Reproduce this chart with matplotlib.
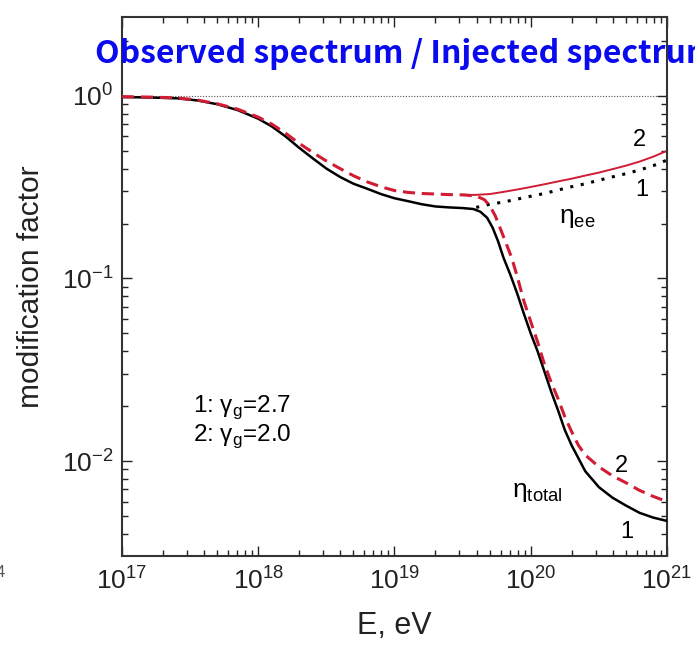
import numpy as np
import matplotlib.pyplot as plt

# --- Data (log10 E in eV) ---
lgE_tot1 = [17.00, 17.20, 17.40, 17.55, 17.70, 17.85, 18.00, 18.10, 18.20, 18.30,
            18.40, 18.50, 18.60, 18.70, 18.80, 18.90, 19.00, 19.10, 19.20, 19.30,
            19.40, 19.50, 19.58, 19.63, 19.68, 19.72, 19.76, 19.80, 19.85, 19.90,
            19.95, 20.00, 20.05, 20.10, 20.15, 20.20, 20.25, 20.30, 20.40, 20.50,
            20.60, 20.70, 20.80, 20.90, 21.00]
eta_tot1 = [0.985, 0.98, 0.97, 0.945, 0.90, 0.835, 0.75, 0.68, 0.60, 0.52,
            0.455, 0.40, 0.36, 0.33, 0.31, 0.29, 0.275, 0.265, 0.255, 0.248,
            0.245, 0.243, 0.240, 0.232, 0.215, 0.19, 0.16, 0.13, 0.105, 0.083,
            0.064, 0.050, 0.040, 0.031, 0.024, 0.019, 0.0148, 0.0122, 0.0088, 0.0072,
            0.0063, 0.0057, 0.0052, 0.0049, 0.0047]

lgE_tot2 = [17.00, 17.20, 17.40, 17.55, 17.70, 17.85, 18.00, 18.10, 18.20, 18.30,
            18.40, 18.50, 18.60, 18.70, 18.80, 18.90, 19.00, 19.10, 19.20, 19.30,
            19.40, 19.50, 19.60, 19.66, 19.70, 19.74, 19.78, 19.82, 19.86, 19.90,
            19.95, 20.00, 20.05, 20.10, 20.15, 20.20, 20.25, 20.30, 20.35, 20.40,
            20.50, 20.60, 20.70, 20.80, 20.90, 21.00]
eta_tot2 = [0.99, 0.985, 0.975, 0.95, 0.905, 0.845, 0.765, 0.70, 0.625, 0.55,
            0.49, 0.44, 0.40, 0.365, 0.338, 0.318, 0.303, 0.296, 0.292, 0.29,
            0.288, 0.287, 0.283, 0.27, 0.25, 0.22, 0.185, 0.155, 0.13, 0.103,
            0.075, 0.058, 0.045, 0.034, 0.027, 0.022, 0.0175, 0.0145, 0.0122, 0.0108,
            0.0093, 0.0083, 0.0076, 0.0069, 0.0064, 0.0060]

lgE_ee2 = [19.50, 19.60, 19.70, 19.80, 19.90, 20.00, 20.10, 20.20, 20.30, 20.40,
           20.50, 20.60, 20.70, 20.80, 20.90, 21.00]
eta_ee2 = [0.287, 0.287, 0.29, 0.298, 0.307, 0.317, 0.328, 0.34, 0.352, 0.366,
           0.38, 0.397, 0.415, 0.437, 0.465, 0.50]

lgE_ee1 = [19.60, 19.70, 19.80, 19.90, 20.00, 20.10, 20.20, 20.30, 20.40, 20.50,
           20.60, 20.70, 20.80, 20.90, 21.00]
eta_ee1 = [0.245, 0.255, 0.262, 0.272, 0.282, 0.292, 0.305, 0.318, 0.33, 0.345,
           0.36, 0.375, 0.393, 0.415, 0.445]

RED = '#d01c34'

plt.rcParams['font.family'] = ['Liberation Sans', 'DejaVu Sans']
plt.rcParams['mathtext.fontset'] = 'custom'
plt.rcParams['mathtext.rm'] = 'Liberation Sans'

fig = plt.figure(figsize=(6.95, 6.51), dpi=100)
ax = fig.add_axes([0.1755, 0.1459, 0.7842, 0.8280])

ax.axhline(1.0, color='#555555', linestyle=(0, (1, 1.5)), linewidth=0.8, zorder=1)

ax.plot(10 ** np.array(lgE_ee2), eta_ee2, color=RED, linewidth=1.4, zorder=2)
ax.plot(10 ** np.array(lgE_ee1), eta_ee1, color='k', linestyle=(0, (1, 2.5)),
        linewidth=2.2, zorder=3)
ax.plot(10 ** np.array(lgE_tot1), eta_tot1, color='k', linewidth=1.8, zorder=3)
ax.plot(10 ** np.array(lgE_tot2), eta_tot2, color=RED, linestyle=(0, (4, 2.2)),
        linewidth=2.2, zorder=4)

ax.set_xscale('log')
ax.set_yscale('log')
ax.set_xlim(1e17, 1e21)
ax.set_ylim(10 ** -2.52, 10 ** 0.432)
ax.set_xticks([1e17, 1e18, 1e19, 1e20, 1e21])
ax.set_yticks([1e-2, 1e-1, 1e0])

ax.tick_params(which='both', direction='in', top=True, right=True, labelsize=19,
               colors='#222222')
ax.tick_params(which='major', length=7, width=1)
ax.tick_params(which='minor', length=4, width=1)
for s in ax.spines.values():
    s.set_linewidth(1.5)
    s.set_color('#333333')
ax.tick_params(axis='x', pad=8)
ax.tick_params(axis='y', pad=6)

ax.set_xlabel('E, eV', fontsize=22, labelpad=12, color='#222222')
ax.set_ylabel('modification factor', fontsize=21.5, labelpad=12, color='#222222')

# annotations
ax.text(10 ** 20.75, 0.575, '2', fontsize=17, ha='left', va='center')
ax.text(10 ** 20.77, 0.306, '1', fontsize=17, ha='left', va='center')
ax.text(10 ** 20.21, 0.215, r'η$_{\mathregular{ee}}$', fontsize=19, ha='left', va='center')
ax.text(10 ** 20.62, 0.0094, '2', fontsize=17, ha='left', va='center')
ax.text(10 ** 20.655, 0.0041, '1', fontsize=17, ha='left', va='center')
ax.text(10 ** 20.05, 0.0068, r'η$_{\mathregular{total}}$', fontsize=19,
        ha='center', va='center')
ax.text(10 ** 17.52, 0.0197, r'1: γ$_{\mathregular{g}}$=2.7', fontsize=17.5,
        ha='left', va='center')
ax.text(10 ** 17.52, 0.0137, r'2: γ$_{\mathregular{g}}$=2.0', fontsize=17.5,
        ha='left', va='center')

fig.text(0.137, 0.917, 'Observed spectrum / Injected spectrum', color='#0a0aee',
         fontsize=23, fontweight='bold', family=['Noto Sans CJK KR', 'DejaVu Sans'],
         ha='left', va='center')
fig.text(-0.006, 0.121, '4', fontsize=12, color='#555555', ha='left', va='center')

plt.savefig('out.png', dpi=100)
